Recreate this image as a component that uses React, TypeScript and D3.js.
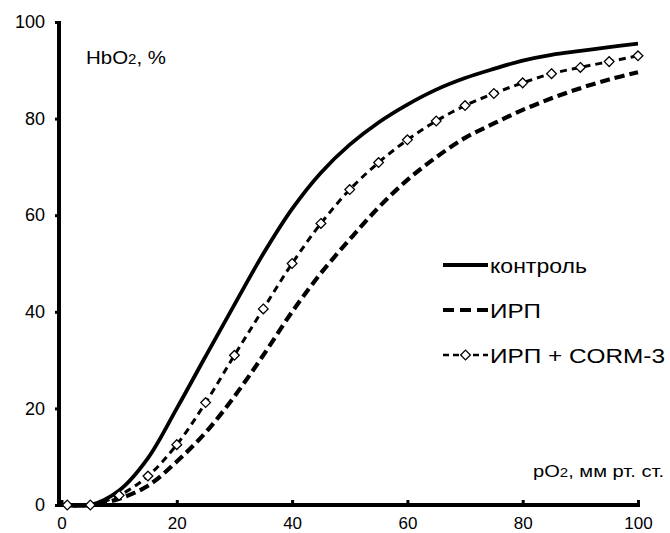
import React, { useEffect, useRef } from 'react';
import * as d3 from 'd3';

// pO2, mm Hg
const pO2 = [1, 5, 10, 15, 20, 25, 30, 35, 40, 45, 50, 55, 60, 65, 70, 75, 80, 85, 90, 95, 100];
// HbO2, %
const control = [0, 0, 3, 9.7, 20, 30.8, 41.5, 52, 61.3, 68.8, 74.6, 79.2, 82.9, 86, 88.4, 90.3, 92, 93.2, 94, 94.8, 95.5];
const irp = [0, 0, 1.3, 4, 9, 15, 22.5, 31, 40, 48, 55, 61.6, 67.3, 72, 76, 79, 81.8, 84.2, 86.3, 88.1, 89.6];
const irpCorm = [0, 0, 2, 6, 12.5, 21.2, 31, 40.6, 50, 58.3, 65.3, 70.9, 75.6, 79.5, 82.7, 85.2, 87.4, 89.3, 90.6, 91.8, 93];

const xTicks = [0, 20, 40, 60, 80, 100];
const yTicks = [0, 20, 40, 60, 80, 100];

const seriesNames = ['контроль', 'ИРП', 'ИРП + CORM-3'];

const FONT = "'Liberation Sans', Arial, sans-serif";

const App = () => {
  const svgRef = useRef(null);

  useEffect(() => {
    const width = 670;
    const height = 533;

    const svg = d3.select(svgRef.current);
    svg.selectAll('*').remove();
    svg.attr('width', width).attr('height', height);

    svg.append('rect').attr('width', width).attr('height', height).attr('fill', '#fff');

    const x = d3.scaleLinear().domain([0, 100]).range([61.5, 638]);
    const y = d3.scaleLinear().domain([0, 100]).range([505, 22]);

    // axes
    const yAxis = svg
      .append('g')
      .attr('transform', 'translate(59,0)')
      .call(d3.axisLeft(y).tickValues(yTicks).tickSize(4).tickPadding(10).tickSizeOuter(0));
    yAxis.select('.domain').remove();
    yAxis.selectAll('.tick line').attr('stroke', '#000').attr('stroke-width', 3);
    yAxis.selectAll('.tick text').attr('font-family', FONT).attr('font-size', 18).attr('fill', '#000');

    const xAxis = svg
      .append('g')
      .attr('transform', 'translate(0,505)')
      .call(d3.axisBottom(x).tickValues(xTicks).tickSizeInner(-5).tickSizeOuter(0).tickPadding(11.5));
    xAxis.select('.domain').remove();
    xAxis.selectAll('.tick line').attr('stroke', '#000').attr('stroke-width', 3);
    xAxis.selectAll('.tick text').attr('font-family', FONT).attr('font-size', 17).attr('fill', '#000');

    svg.append('line')
      .attr('x1', 59).attr('x2', 59)
      .attr('y1', y(0) + 2).attr('y2', y(100) - 1)
      .attr('stroke', '#000').attr('stroke-width', 4);
    svg.append('line')
      .attr('x1', 57).attr('x2', x(100) + 2)
      .attr('y1', y(0)).attr('y2', y(0))
      .attr('stroke', '#000').attr('stroke-width', 4);

    // axis titles
    const yTitle = svg.append('text')
      .attr('x', 86).attr('y', 64)
      .attr('font-family', FONT).attr('font-size', 19)
      .attr('textLength', 80).attr('lengthAdjust', 'spacingAndGlyphs');
    yTitle.append('tspan').text('HbO');
    yTitle.append('tspan').attr('font-size', 14).text('2');
    yTitle.append('tspan').text(', %');

    const xTitle = svg.append('text')
      .attr('x', 533).attr('y', 477)
      .attr('font-family', FONT).attr('font-size', 16)
      .attr('textLength', 131).attr('lengthAdjust', 'spacingAndGlyphs');
    xTitle.append('tspan').text('pO');
    xTitle.append('tspan').attr('font-size', 12).text('2');
    xTitle.append('tspan').text(', мм рт. ст.');

    const line = d3
      .line()
      .x((d) => x(d[0]))
      .y((d) => y(d[1]))
      .curve(d3.curveCatmullRom.alpha(0.5));

    const pts = (vals) => pO2.map((p, i) => [p, vals[i]]);

    svg.append('path')
      .datum(pts(control))
      .attr('fill', 'none')
      .attr('stroke', '#000')
      .attr('stroke-width', 3.8)
      .attr('d', line);

    svg.append('path')
      .datum(pts(irp))
      .attr('fill', 'none')
      .attr('stroke', '#000')
      .attr('stroke-width', 4.2)
      .attr('stroke-dasharray', '10,5')
      .attr('d', line);

    svg.append('path')
      .datum(pts(irpCorm))
      .attr('fill', 'none')
      .attr('stroke', '#000')
      .attr('stroke-width', 3)
      .attr('stroke-dasharray', '7,5')
      .attr('d', line);

    const diamond = d3.symbol().type(d3.symbolDiamond2).size(60);

    svg.selectAll('.marker')
      .data(pts(irpCorm))
      .enter()
      .append('path')
      .attr('class', 'marker')
      .attr('transform', (d) => `translate(${x(d[0])},${y(d[1])})`)
      .attr('d', diamond)
      .attr('fill', '#fff')
      .attr('stroke', '#000')
      .attr('stroke-width', 1.3);

    // legend
    const legendY = [265, 310, 355];
    const legendWidths = [97, 51, 175];
    const lx0 = 443;
    const lx1 = 488;

    svg.append('line')
      .attr('x1', lx0).attr('x2', lx1).attr('y1', legendY[0]).attr('y2', legendY[0])
      .attr('stroke', '#000').attr('stroke-width', 3.8);
    svg.append('line')
      .attr('x1', lx0).attr('x2', lx1).attr('y1', legendY[1]).attr('y2', legendY[1])
      .attr('stroke', '#000').attr('stroke-width', 4.2).attr('stroke-dasharray', '11,6');
    svg.append('line')
      .attr('x1', lx0).attr('x2', lx1).attr('y1', legendY[2]).attr('y2', legendY[2])
      .attr('stroke', '#000').attr('stroke-width', 2.6).attr('stroke-dasharray', '6,4');
    svg.append('path')
      .attr('transform', `translate(${(lx0 + lx1) / 2},${legendY[2]})`)
      .attr('d', diamond)
      .attr('fill', '#fff')
      .attr('stroke', '#000')
      .attr('stroke-width', 1.3);

    seriesNames.forEach((name, i) => {
      svg.append('text')
        .attr('x', 490)
        .attr('y', legendY[i])
        .attr('dy', '0.36em')
        .attr('font-family', FONT)
        .attr('font-size', 21)
        .attr('textLength', legendWidths[i])
        .attr('lengthAdjust', 'spacingAndGlyphs')
        .text(name);
    });
  }, []);

  return <svg ref={svgRef} style={{ position: 'absolute', left: 0, top: 0 }}></svg>;
};

export default App;
